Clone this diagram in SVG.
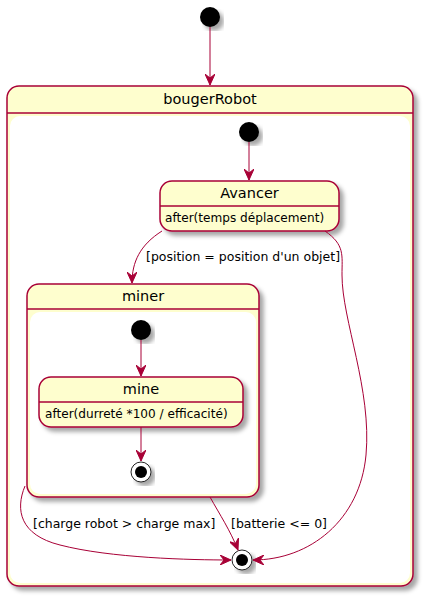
<svg xmlns="http://www.w3.org/2000/svg" width="424" height="598" viewBox="0 0 424 598">
<defs>
<filter id="sh" x="-10%" y="-10%" width="130%" height="130%">
<feGaussianBlur in="SourceAlpha" stdDeviation="2"/>
<feOffset dx="4" dy="4" result="b"/>
<feColorMatrix in="b" type="matrix" values="0 0 0 0 0 0 0 0 0 0 0 0 0 0 0 0 0 0 0.35 0"/>
<feMerge><feMergeNode/><feMergeNode in="SourceGraphic"/></feMerge>
</filter>
<marker id="ar" viewBox="0 0 12 10" refX="11" refY="5" markerWidth="12" markerHeight="10" markerUnits="userSpaceOnUse" orient="auto">
<path d="M0,0 L11,5 L0,10 L4,5 Z" fill="#A80036" stroke="#A80036" stroke-width="1"/>
</marker>
</defs>
<style>
.st{fill:#FEFECE;stroke:#A80036;stroke-width:1.5}
.ln{stroke:#A80036;stroke-width:1.5}
.e{fill:none;stroke:#A80036;stroke-width:1;marker-end:url(#ar)}
text{font-family:"DejaVu Sans",sans-serif;fill:#000}
.t{font-size:14.5px;text-anchor:middle}
.s{font-size:12.1px}
.l{font-size:12.5px}
</style>
<g id="start0"><circle cx="210" cy="17" r="10" fill="#000" filter="url(#sh)"/></g>
<g id="bougerRobot">
<rect class="st" x="7" y="86" width="406" height="500" rx="12" filter="url(#sh)"/>
<line class="ln" x1="7" y1="113" x2="413" y2="113"/>
<rect x="10" y="116" width="400" height="467" rx="10" fill="#fff"/>
<text class="t" x="210" y="104">bougerRobot</text>
</g>
<g id="start1"><circle cx="249" cy="132" r="10" fill="#000" filter="url(#sh)"/></g>
<g id="Avancer">
<rect class="st" x="160" y="181" width="179" height="50" rx="12" filter="url(#sh)"/>
<line class="ln" x1="160" y1="206" x2="339" y2="206"/>
<text class="t" x="249.5" y="198">Avancer</text>
<text class="s" x="165" y="222">after(temps déplacement)</text>
</g>
<g id="miner">
<rect class="st" x="27" y="284" width="232" height="213" rx="12" filter="url(#sh)"/>
<line class="ln" x1="27" y1="309" x2="259" y2="309"/>
<rect x="30" y="312" width="226" height="182" rx="10" fill="#fff"/>
<text class="t" x="143" y="301">miner</text>
</g>
<g id="start2"><circle cx="141" cy="330" r="10" fill="#000" filter="url(#sh)"/></g>
<g id="mine">
<rect class="st" x="39" y="377" width="204" height="50" rx="12" filter="url(#sh)"/>
<line class="ln" x1="39" y1="402" x2="243" y2="402"/>
<text class="t" x="141" y="394">mine</text>
<text class="s" x="45" y="418">after(durreté *100 / efficacité)</text>
</g>
<g id="end1">
<circle cx="141" cy="472" r="10" fill="#fff" stroke="#222" stroke-width="1" filter="url(#sh)"/>
<circle cx="141" cy="472" r="6" fill="#000"/>
</g>
<g id="end0">
<circle cx="242" cy="560" r="10" fill="#fff" stroke="#222" stroke-width="1" filter="url(#sh)"/>
<circle cx="242" cy="560" r="6" fill="#000"/>
</g>
<g id="connectors">
<path class="e" d="M210,27 L210,85"/>
<path class="e" d="M249,142 L249,180"/>
<path class="e" d="M162,231 C140,245 132,262 132,283"/>
<path class="e" d="M141,340 L141,376"/>
<path class="e" d="M141,427 L141,461"/>
<path class="e" d="M25,486 C15,510 20,535 60,545 C110,558 190,560 231,560"/>
<path class="e" d="M210,497 C220,515 230,530 238,550"/>
<path class="e" d="M325,231 C345,245 342,255 342,275 C342,320 372,390 366,455 C360,520 310,560 253,560"/>
<text class="l" x="146" y="261">[position = position d'un objet]</text>
<text class="l" x="33" y="528">[charge robot &gt; charge max]</text>
<text class="l" x="231" y="528">[batterie &lt;= 0]</text>
</g>
</svg>
